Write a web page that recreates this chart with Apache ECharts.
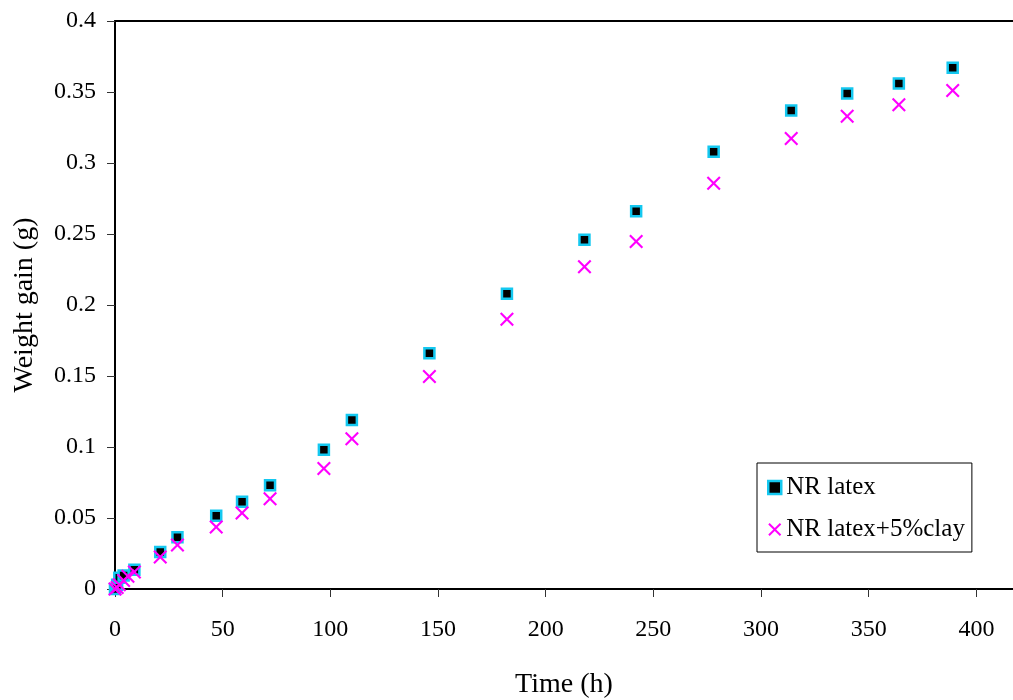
<!DOCTYPE html>
<html>
<head>
<meta charset="utf-8">
<script src="https://cdn.jsdelivr.net/npm/echarts@6/dist/echarts.min.js"></script>
<style>html,body{margin:0;padding:0;background:#fff;}#c{width:1013px;height:700px;}</style>
</head>
<body>
<div id="c"></div>
<script>
const seriesNames = ['NR latex', 'NR latex+5%clay'];
const timeNR = [0, 1, 2, 4, 9, 21, 29, 47, 59, 72, 97, 110, 146, 182, 218, 242, 278, 314, 340, 364, 389];
const gainNR = [0, 0.003, 0.008, 0.0095, 0.0135, 0.026, 0.0365, 0.0515, 0.0615, 0.073, 0.098, 0.119, 0.166, 0.208, 0.246, 0.266, 0.308, 0.337, 0.349, 0.356, 0.367];
const timeClay = [0, 1, 2, 4, 6, 9, 21, 29, 47, 59, 72, 97, 110, 146, 182, 218, 242, 278, 314, 340, 364, 389];
const gainClay = [0, 0.001, 0.003, 0.006, 0.009, 0.012, 0.0225, 0.031, 0.0437, 0.0535, 0.0635, 0.0848, 0.1058, 0.1497, 0.190, 0.227, 0.2448, 0.2857, 0.3173, 0.333, 0.341, 0.351];
const xTicks = [0, 50, 100, 150, 200, 250, 300, 350, 400];
const yTicks = [0, 0.05, 0.1, 0.15, 0.2, 0.25, 0.3, 0.35, 0.4];

const FONT = '"Liberation Serif", "Times New Roman", serif';
const crossPath = 'path://M0,1.5L1.5,0L7,5.5L12.5,0L14,1.5L8.5,7L14,12.5L12.5,14L7,8.5L1.5,14L0,12.5L5.5,7Z';

const chart = echarts.init(document.getElementById('c'), null, {renderer: 'canvas'});
chart.setOption({
  animation: false,
  backgroundColor: '#fff',
  grid: {left: 115, top: 21, right: 0, height: 568, show: false, containLabel: false, outerBoundsMode: 'none'},
  xAxis: [{
    type: 'value', min: 0, max: 417, interval: 50,
    name: 'Time (h)', nameLocation: 'middle', nameGap: 82,
    nameTextStyle: {fontFamily: FONT, fontSize: 28, color: '#000'},
    axisLine: {show: true, lineStyle: {color: '#000', width: 2}},
    axisTick: {show: true, length: 8, lineStyle: {color: '#333', width: 1}},
    axisLabel: {
      fontFamily: FONT, fontSize: 24, color: '#000', margin: 29, showMaxLabel: false,
      formatter: v => xTicks.includes(v) ? String(v) : ''
    },
    splitLine: {show: false}
  }, {
    type: 'value', position: 'top', min: 0, max: 417,
    axisLine: {show: true, onZero: false, lineStyle: {color: '#000', width: 2}},
    axisTick: {show: false}, axisLabel: {show: false}, splitLine: {show: false}
  }],
  yAxis: {
    type: 'value', min: 0, max: 0.4, interval: 0.05,
    name: 'Weight gain (g)', nameLocation: 'middle', nameGap: 76,
    nameTextStyle: {fontFamily: FONT, fontSize: 28, color: '#000'},
    axisLine: {show: true, lineStyle: {color: '#000', width: 2}},
    axisTick: {show: true, length: 8, lineStyle: {color: '#333', width: 1}},
    axisLabel: {
      fontFamily: FONT, fontSize: 24, color: '#000', margin: 19,
      formatter: v => { const t = yTicks.find(y => Math.abs(y - v) < 1e-9); return t === undefined ? '' : String(t); }
    },
    splitLine: {show: false}
  },
  legend: {
    orient: 'vertical', left: 757, top: 463,
    padding: [12, 7, 10, 10],
    itemGap: 17, itemWidth: 13, itemHeight: 13, itemTextGap: 9,
    borderColor: '#000', borderWidth: 1, backgroundColor: '#fff',
    textStyle: {fontFamily: FONT, fontSize: 25, color: '#000'},
    data: [
      {name: seriesNames[0], icon: 'rect', itemStyle: {color: '#000', borderColor: '#14c8f0', borderWidth: 2.5}},
      {name: seriesNames[1], icon: crossPath, itemStyle: {color: '#ff00ff', borderWidth: 0}}
    ]
  },
  series: [
    {
      name: seriesNames[0], type: 'scatter', clip: false,
      symbol: 'rect', symbolSize: 10,
      itemStyle: {color: '#000', borderColor: '#14c8f0', borderWidth: 2.5, opacity: 1},
      data: timeNR.map((t, i) => [t, gainNR[i]])
    },
    {
      name: seriesNames[1], type: 'scatter', clip: false,
      symbol: crossPath, symbolSize: 14,
      itemStyle: {color: '#ff00ff', borderWidth: 0, opacity: 1},
      data: timeClay.map((t, i) => [t, gainClay[i]])
    }
  ]
});
</script>
</body>
</html>
